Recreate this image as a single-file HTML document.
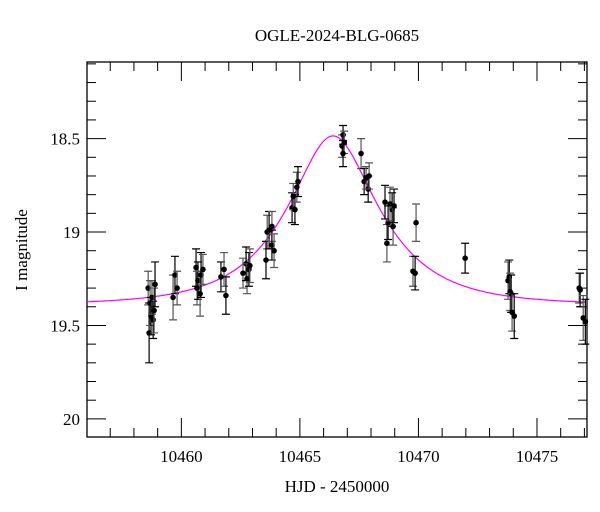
<!DOCTYPE html>
<html><head><meta charset="utf-8"><style>
body{margin:0;background:#fff;}
svg{display:block;font-family:"Liberation Serif",serif;}
</style></head><body>
<svg id="chart" width="600" height="512" viewBox="0 0 600 512" xmlns="http://www.w3.org/2000/svg">
<text x="337" y="41" font-size="17" text-anchor="middle">OGLE-2024-BLG-0685</text>
<text x="337" y="492" font-size="17" text-anchor="middle">HJD - 2450000</text>
<text x="27" y="250" font-size="17" text-anchor="middle" transform="rotate(-90 27 250)">I magnitude</text>
<g id="plot"></g>
</svg>
<script>
const days=[10458.60,10458.64,10458.68,10458.72,10458.76,10458.81,10458.85,10458.89,10459.65,10459.73,10459.82,10460.62,10460.66,10460.70,10460.79,10460.83,10460.91,10461.67,10461.80,10461.88,10462.60,10462.73,10462.77,10462.85,10462.89,10463.57,10463.62,10463.70,10463.82,10463.82,10463.91,10464.67,10464.72,10464.79,10464.87,10464.92,10466.78,10466.82,10466.87,10466.82,10467.58,10467.71,10467.79,10467.88,10467.92,10468.59,10468.67,10468.72,10468.80,10468.89,10468.93,10468.97,10469.77,10469.86,10469.90,10471.97,10473.78,10473.83,10473.87,10473.91,10473.95,10474.04,10476.78,10476.82,10476.95,10477.04];
const mags=[19.30,19.54,19.38,19.45,19.35,19.47,19.42,19.28,19.35,19.23,19.30,19.19,19.30,19.26,19.33,19.23,19.20,19.24,19.20,19.34,19.22,19.17,19.25,19.20,19.18,19.15,19.00,18.99,18.97,19.07,19.10,18.87,18.81,18.88,18.76,18.73,18.54,18.48,18.52,18.58,18.58,18.73,18.71,18.77,18.70,18.84,19.06,18.95,18.85,18.88,18.97,18.86,19.21,19.22,18.95,19.14,19.26,19.24,19.32,19.33,19.43,19.45,19.30,19.31,19.46,19.48];
const errs=[0.09,0.16,0.12,0.10,0.09,0.10,0.12,0.12,0.12,0.10,0.09,0.10,0.09,0.10,0.12,0.12,0.08,0.08,0.09,0.10,0.08,0.09,0.08,0.09,0.09,0.10,0.09,0.10,0.08,0.08,0.09,0.08,0.07,0.08,0.08,0.08,0.06,0.05,0.06,0.07,0.08,0.07,0.06,0.07,0.07,0.09,0.10,0.09,0.09,0.09,0.10,0.09,0.08,0.09,0.10,0.08,0.10,0.09,0.10,0.10,0.10,0.12,0.08,0.09,0.12,0.12];
const xTicks=[10460,10465,10470,10475];
const yTicks=[18.5,19,19.5,20];
const model={t0:10466.4,u0:0.47,tE:3.4,base:19.39};
const L=87,R=587,T=62,B=437;
const xMin=10456.02,xMax=10477.11,yMin=18.09,yMax=20.097;
const X=d=>L+(d-xMin)/(xMax-xMin)*(R-L);
const Y=m=>T+(m-yMin)/(yMax-yMin)*(B-T);
const NS='http://www.w3.org/2000/svg';
const g=document.getElementById('plot');
function el(tag,attrs){const e=document.createElementNS(NS,tag);for(const k in attrs)e.setAttribute(k,attrs[k]);g.appendChild(e);return e;}
// frame
let fr=el('rect',{x:L,y:T,width:R-L,height:B-T,fill:'none',stroke:'#000','stroke-width':1.3});


// x ticks
for(let d=Math.ceil(xMin);d<=xMax;d++){
  const major=d%5===0,len=major?19:9,x=X(d);
  let t1=el('line',{x1:x,x2:x,y1:B,y2:B-len,stroke:'#000','stroke-width':1});
  
  
  let t2=el('line',{x1:x,x2:x,y1:T,y2:T+len,stroke:'#000','stroke-width':1});
  
  
}
xTicks.forEach(d=>{
  let t=el('text',{x:X(d),y:B+25,'font-size':17,'text-anchor':'middle'});t.textContent=d;
  
  
});
// y ticks
for(let i=Math.ceil(yMin*10);i<=yMax*10;i++){
  const m=i/10,major=i%5===0,len=major?19:9,y=Y(m);
  let t1=el('line',{x1:L,x2:L+len,y1:y,y2:y,stroke:'#000','stroke-width':1});
  
  
  let t2=el('line',{x1:R,x2:R-len,y1:y,y2:y,stroke:'#000','stroke-width':1});
  
  
}
yTicks.forEach(m=>{
  let t=el('text',{x:L-7,y:Y(m)+6,'font-size':17,'text-anchor':'end'});t.textContent=m;
  
  
});
// model curve
let pts=[];
for(let x=L;x<=R;x+=1){
  const d=xMin+(x-L)/(R-L)*(xMax-xMin);
  const tau=(d-model.t0)/model.tE,u=Math.sqrt(model.u0*model.u0+tau*tau);
  const A=(u*u+2)/(u*Math.sqrt(u*u+4));
  pts.push(x.toFixed(1)+','+Y(model.base-2.5*Math.log10(A)).toFixed(1));
}
let c=el('polyline',{points:pts.join(' '),fill:'none',stroke:'#ff00ff','stroke-width':1.2});


// data
days.forEach((d,i)=>{
  const x=X(d),y1=Y(mags[i]-errs[i]),y2=Y(mags[i]+errs[i]),col=i%2?'#000':'#555';
  let e=el('path',{d:`M${x},${y1}V${y2}M${x-4},${y1}H${x+4}M${x-4},${y2}H${x+4}`,stroke:col,'stroke-width':1.2,fill:'none'});
  
  
  let p=el('circle',{cx:x,cy:Y(mags[i]),r:2.8,fill:'#000'});
  
  
});
</script>
</body></html>
